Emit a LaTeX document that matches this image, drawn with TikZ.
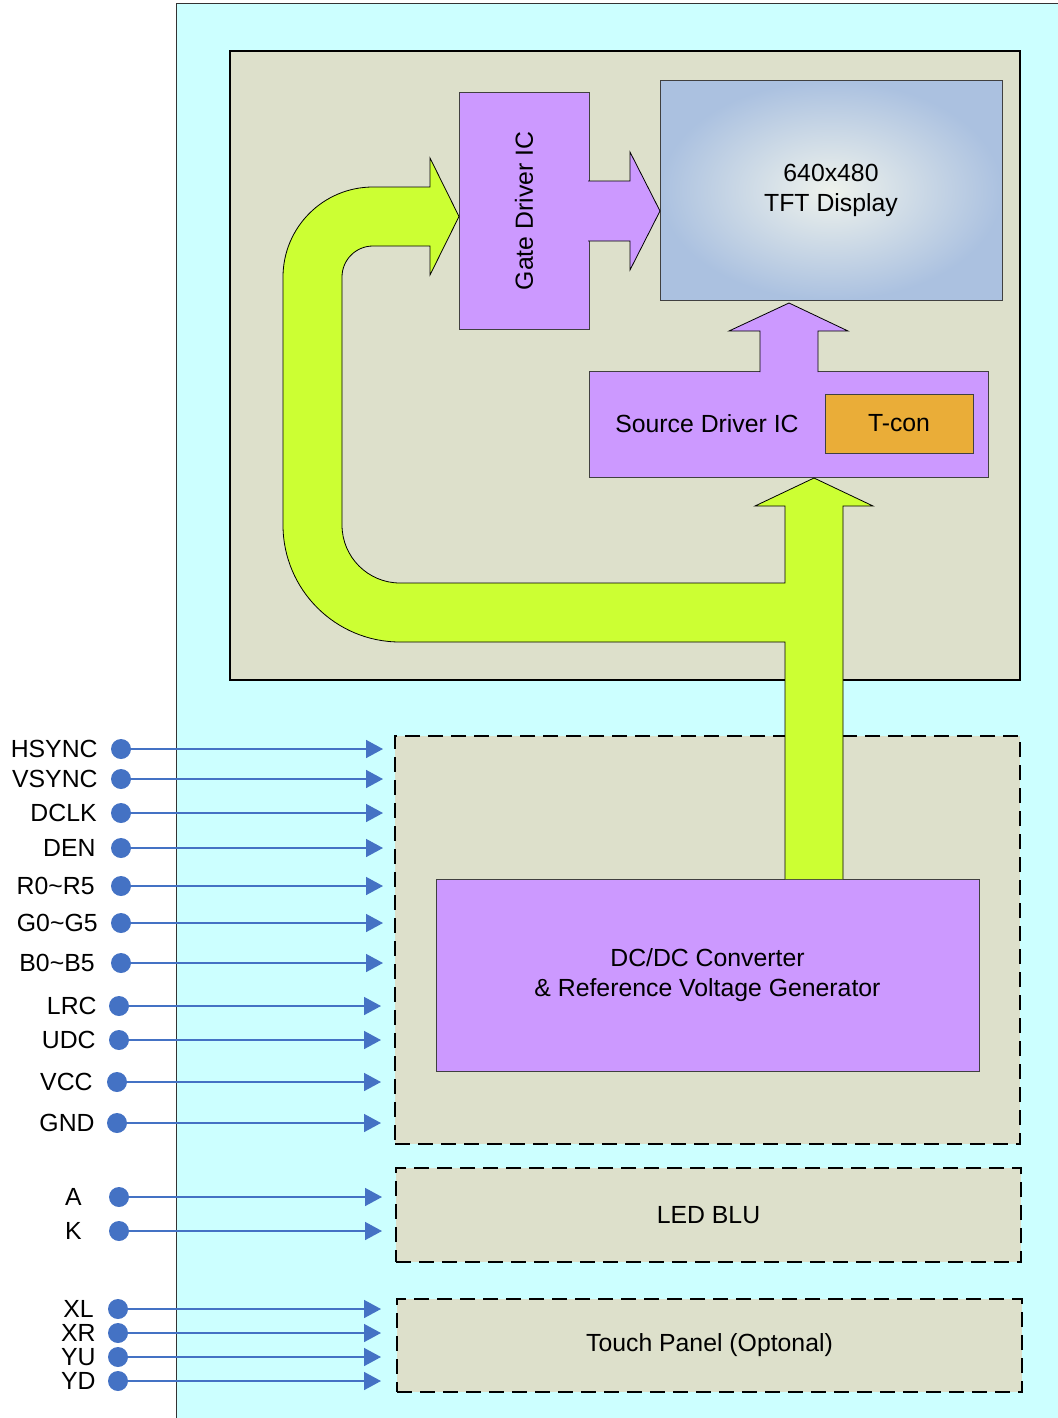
\documentclass[tikz,border=0pt]{standalone}
\usepackage{fontspec}
\setmainfont{Liberation Sans}
\usetikzlibrary{positioning,arrows.meta}

\definecolor{cyanbg}{HTML}{CCFFFF}
\definecolor{modgray}{HTML}{DDE0CB}
\definecolor{icpurple}{HTML}{CC99FF}
\definecolor{busgreen}{HTML}{CCFF33}
\definecolor{tconorange}{HTML}{EAAD38}
\definecolor{pinblue}{HTML}{4472C4}
\definecolor{tftblue}{HTML}{ABC1E0}
\definecolor{tftlight}{HTML}{EEF2EC}

\begin{document}
\begin{tikzpicture}[x=0.5pt, y=-0.5pt,
    box/.style={rectangle, draw=black!75, line width=0.5pt, inner sep=0pt,
        font=\fontsize{12.4}{15}\selectfont, align=center},
    ic/.style={box, fill=icpurple},
    dashbox/.style={box, fill=modgray, draw=black, line width=1.3pt,
        dash pattern=on 7.5pt off 4pt},
    txt/.style={inner sep=0pt, font=\fontsize{12.4}{15}\selectfont, align=center},
    pindot/.style={circle, fill=pinblue, inner sep=0pt, minimum size=10pt},
    sig/.style={draw=pinblue, line width=0.8pt, -{Triangle[length=8.5pt,width=9pt]}},
    fatarrow/.style={draw=black, line width=0.4pt}
]
\useasboundingbox (0,0) rectangle (1057,1418);

% background and module frame
\draw[fill=cyanbg, draw=black!80, line width=0.5pt] (176,4) rectangle (1062,1424);
\node[box, fill=modgray, draw=black, line width=1.2pt,
    minimum width=395pt, minimum height=314.5pt] (module) at (625,365.5) {};

% panel blocks
\node[ic, minimum width=65pt, minimum height=118pt] (gate) at (524,211) {};
\node[txt, rotate=90] (gatelbl) at (gate.center) {Gate Driver IC};
\node[box, shading=radial, inner color=tftlight, outer color=tftblue,
    minimum width=171pt, minimum height=109.5pt] (tft) at (831,190.5)
    {640x480\\TFT Display};
\node[ic, minimum width=199.5pt, minimum height=53pt] (source) at (788.5,424) {};
\node[txt] (srclbl) at (707,424) {Source Driver IC};
\node[box, fill=tconorange, minimum width=74pt, minimum height=29.5pt] (tcon) at (899,423.5) {T-con};

% purple arrows (gate -> tft, source -> tft)
\filldraw[fatarrow, fill=icpurple] (588,181) -- (630,181) -- (630,152) -- (660,211)
    -- (630,270) -- (630,241) -- (588,241);
\filldraw[fatarrow, fill=icpurple] (760,372) -- (760,331) -- (729,331) -- (789,303)
    -- (848,331) -- (818,331) -- (818,372);

% lower blocks
\node[dashbox, minimum width=312.5pt, minimum height=204pt] (inbox) at (707.5,940) {};
\node[ic, minimum width=271.5pt, minimum height=96pt] (dcdc) at (707.5,975)
    {DC/DC Converter\\\& Reference Voltage Generator};
\node[dashbox, minimum width=312.5pt, minimum height=47pt] (led) at (708.5,1215) {LED BLU};
\node[dashbox, minimum width=312.5pt, minimum height=46.5pt] (touch) at (709.5,1345.5)
    {Touch Panel (Optonal)};

% green bus from dcdc to source and gate
\filldraw[fatarrow, fill=busgreen] (785,879) -- (785,642) -- (400,642)
    .. controls (335.4,642) and (283,589.6) .. (283,525)
    -- (283,277)
    .. controls (283,227.3) and (323.3,187) .. (373,187)
    -- (430,187) -- (430,158) -- (459,216.5) -- (430,275) -- (430,246) -- (373,246)
    .. controls (355.9,246) and (342,259.9) .. (342,277)
    -- (342,525)
    .. controls (342,557) and (368,583) .. (400,583)
    -- (785,583) -- (785,506) -- (755,506) -- (814,478) -- (873,506) -- (843,506)
    -- (843,879);

% interface pins
\foreach \lbl/\y/\lx/\dx/\tx [count=\i] in {
    HSYNC/749/98/121/383, VSYNC/779/98/121/383, DCLK/813/97/121/383,
    DEN/848/96/121/383, R0\textasciitilde R5/886/95/121/383,
    G0\textasciitilde G5/923/98/121/383, B0\textasciitilde B5/963/95/121/383,
    LRC/1006/97/119/381, UDC/1040/96/119/381, VCC/1082/93/117/381,
    GND/1123/95/117/381, A/1197/82/119/382, K/1231/82/119/382,
    XL/1309/94/118/381, XR/1333/96/118/381, YU/1357/96/118/381, YD/1381/96/118/381}
{
    \node[pindot] (p\i) at (\dx,\y) {};
    \node[txt, anchor=east] (l\i) at (\lx,\y) {\lbl};
    \coordinate (e\i) at (\tx,\y);
    \draw[sig] (p\i) -- (e\i);
}

\end{tikzpicture}
\end{document}
